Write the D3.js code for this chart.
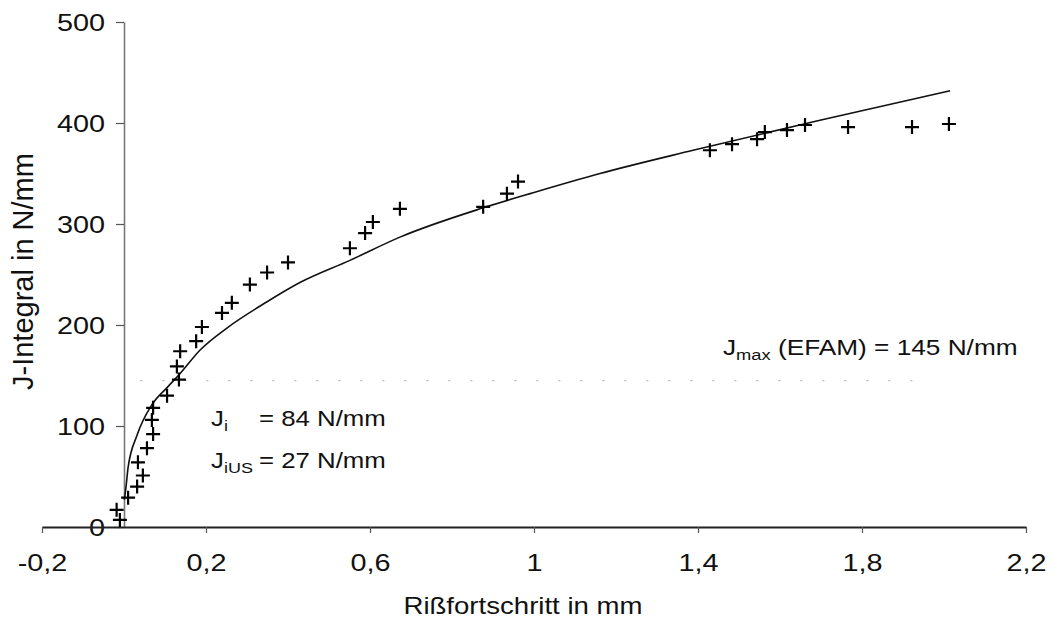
<!DOCTYPE html>
<html>
<head>
<meta charset="utf-8">
<script src="https://cdn.jsdelivr.net/npm/d3@7"></script>
<style>
  body { margin: 0; background: #fff; }
  svg { display: block; }
  text { font-family: "Liberation Sans", Arial, Helvetica, sans-serif; fill: #111; }
</style>
</head>
<body>
<svg id="chart" width="1053" height="626"></svg>
<script>
// Measured crack extension (mm) and J-integral (N/mm)
const crackExt = [-0.010, -0.018, 0.010, 0.032, 0.046, 0.034, 0.056, 0.071, 0.068, 0.071,
                  0.105, 0.134, 0.129, 0.137, 0.176, 0.190, 0.239, 0.263, 0.307, 0.349,
                  0.400, 0.551, 0.588, 0.607, 0.673, 0.876, 0.934, 0.961, 1.429, 1.483,
                  1.544, 1.563, 1.617, 1.661, 1.766, 1.922, 2.012];
const jValues  = [7, 17, 29, 40, 51, 64, 78, 92, 106, 118,
                  130, 146, 159, 174, 184, 198, 212, 222, 240, 252,
                  262, 276, 291, 302, 315, 317, 330, 342, 373, 379,
                  384, 391, 393, 398, 396, 396, 399];

// Fitted resistance curve
const fitExt = [0.001, 0.005, 0.010, 0.032, 0.068, 0.105, 0.137, 0.185, 0.251, 0.349,
                0.429, 0.551, 0.673, 0.876, 0.998, 1.161, 1.388, 1.700, 2.015];
const fitJ   = [27, 40, 59, 91, 121, 138, 152, 175, 197, 223,
                242, 264, 287, 316, 331, 350, 373, 403, 432];

// Axis ticks
const xTicks = [-0.2, 0.2, 0.6, 1.0, 1.4, 1.8, 2.2];
const xTickLabels = ["-0,2", "0,2", "0,6", "1", "1,4", "1,8", "2,2"];
const yTicks = [0, 100, 200, 300, 400, 500];

// Characteristic values
const jMaxEFAM = 145;
const jInit = 84;
const jInitUS = 27;

const svg = d3.select("#chart");
const SX = 1.2; // horizontal glyph stretch

const x = d3.scaleLinear().domain([-0.2, 2.2]).range([42, 1026]);
const y = d3.scaleLinear().domain([0, 500]).range([527, 22]);

// Dashed reference line at J_max
svg.append("line")
  .attr("x1", x(0.04)).attr("x2", x(1.95))
  .attr("y1", y(jMaxEFAM)).attr("y2", y(jMaxEFAM))
  .attr("stroke", "#b8b8b8").attr("stroke-width", 1.2)
  .attr("stroke-dasharray", "2,20");

// Y axis
const yAxis = svg.append("g")
  .attr("transform", `translate(${x(0)},0)`)
  .call(d3.axisLeft(y).tickValues(yTicks).tickSize(8).tickSizeOuter(0).tickFormat(d3.format("d")));
yAxis.select(".domain").attr("stroke", "#777").attr("stroke-width", 1.6);
yAxis.selectAll(".tick line").attr("stroke", "#555").attr("stroke-width", 1.2);
yAxis.selectAll(".tick text")
  .attr("x", -19 / SX)
  .attr("dy", "0.36em")
  .attr("transform", `scale(${SX},1)`)
  .style("font-size", "24px")
  .attr("fill", "#111");

// X axis at J = 0
const xAxis = svg.append("g")
  .attr("transform", `translate(0,${y(0)})`)
  .call(d3.axisBottom(x).tickValues(xTicks).tickSize(6).tickSizeOuter(0)
        .tickFormat((d, i) => xTickLabels[i]));
xAxis.select(".domain").attr("stroke", "#222").attr("stroke-width", 2);
xAxis.selectAll(".tick line").attr("stroke", "#555").attr("stroke-width", 1.2);
xAxis.selectAll(".tick text")
  .attr("y", 44)
  .attr("dy", 0)
  .attr("transform", `scale(${SX},1)`)
  .attr("x", 0)
  .style("font-size", "24px")
  .attr("fill", "#111");

// Fitted curve
const fitData = fitExt.map((d, i) => [d, fitJ[i]]);
svg.append("path")
  .datum(fitData)
  .attr("fill", "none")
  .attr("stroke", "#111")
  .attr("stroke-width", 1.6)
  .attr("d", d3.line().x(d => x(d[0])).y(d => y(d[1])).curve(d3.curveMonotoneX));

// Measured points as crosses
const pts = crackExt.map((d, i) => [d, jValues[i]]);
svg.append("g").selectAll("path")
  .data(pts)
  .join("path")
  .attr("transform", d => `translate(${x(d[0])},${y(d[1])})`)
  .attr("d", "M-7,0H7M0,-7V7")
  .attr("stroke", "#000")
  .attr("stroke-width", 2.2)
  .attr("fill", "none");

// Stretched text helper: parts = [[text, isSub], ...]
function label(px, py, parts, size, anchor, sx) {
  const g = svg.append("g").attr("transform", `translate(${px},${py}) scale(${sx || SX},1)`);
  const t = g.append("text").attr("x", 0).attr("y", 0)
    .style("font-size", size + "px")
    .attr("text-anchor", anchor || "start");
  parts.forEach(([s, sub], i) => {
    const ts = t.append("tspan").text(s);
    if (sub) ts.style("font-size", Math.round(size * 0.7) + "px").attr("dy", 5);
    else if (i > 0 && parts[i - 1][1]) ts.attr("dy", -5);
  });
  return g;
}

// Annotations
label(211, 426, [["J", false], ["i", true]], 21.5);
label(259, 426, [["= " + jInit + " N/mm", false]], 21.5);
label(211, 468, [["J", false], ["iUS", true]], 21.5);
label(259, 468, [["= " + jInitUS + " N/mm", false]], 21.5);
label(723, 355, [["J", false], ["max", true], [" (EFAM) = " + jMaxEFAM + " N/mm", false]], 21.5, "start", 1.22);

// Axis titles
label(523, 614, [["Rißfortschritt in mm", false]], 23, "middle");

svg.append("text")
  .attr("transform", `translate(33,390) rotate(-90)`)
  .attr("text-anchor", "start")
  .style("font-size", "29px")
  .text("J-Integral in N/mm");
</script>
</body>
</html>
